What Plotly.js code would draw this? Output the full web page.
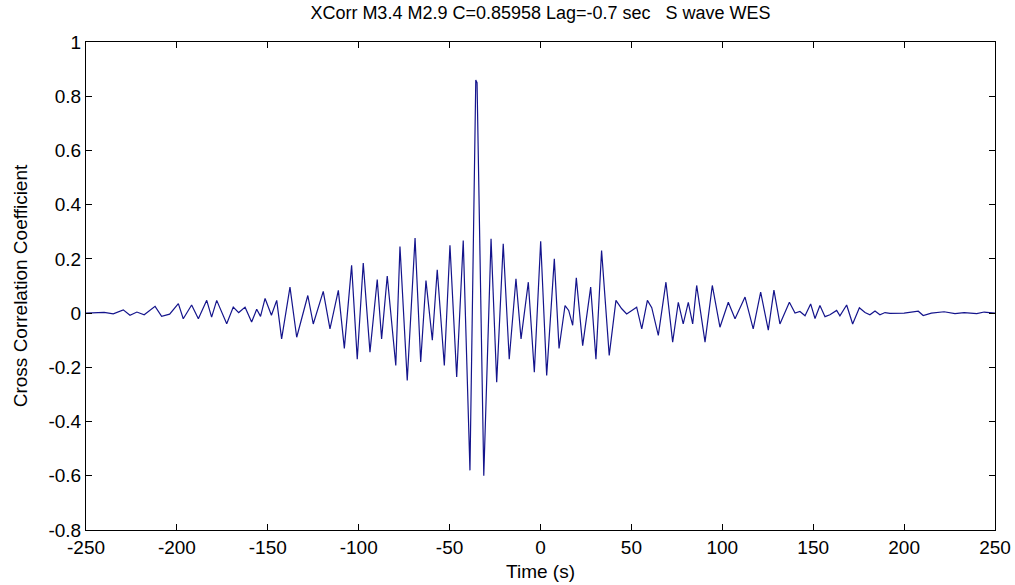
<!DOCTYPE html>
<html>
<head>
<meta charset="utf-8">
<script src="https://cdn.plot.ly/plotly-3.0.1.min.js"></script>
<style>
html,body{margin:0;padding:0;background:#fff;}
#chart{width:1015px;height:585px;}
</style>
</head>
<body>
<div id="chart"></div>
<script>
// Lag time in seconds
const timeS = [
  -250, -240, -235, -229.5, -225.8, -222, -218, -212, -208.4, -204,
  -199.2, -196.5, -191.9, -188.2, -183.6, -180.9, -178.1, -172.6, -169, -166,
  -162.5, -158.9, -156.1, -154, -151.5, -148, -145.1, -142.4, -137.8, -134.1,
  -128, -125, -119.5, -115.8, -111.2, -107.9, -103.9, -100.8, -97.5, -93.8,
  -89.8, -87.4, -84.3, -79.6, -77.3, -73.3, -69.0, -65.9, -63.0, -59.5,
  -56.8, -52.9, -49.8, -46.1, -42.5, -38.8, -35.6, -34.9, -31.2, -27.2,
  -24.1, -20.5, -17.2, -13.5, -10.7, -6.7, -3.4, 0.1, 3.4, 7.6,
  10.2, 13.5, 15.5, 17.7, 19.7, 23.2, 27.6, 30.5, 33.6, 37.8,
  41.5, 44.7, 47.4, 50.2, 52.9, 55.7, 58.8, 61.2, 64.8, 69.0,
  72.7, 75.8, 78.5, 81.3, 83.7, 85.9, 90.5, 94.5, 98.7, 103.3,
  107, 112.5, 117, 121.1, 125.3, 128.4, 131.7, 136.9, 140, 142.7,
  145.5, 148.6, 151, 153.7, 156.5, 159.2, 162.9, 164.7, 168.4, 171.7,
  175.4, 178.5, 181.2, 184, 186.7, 189.5, 192.2, 200, 207.8, 210.5,
  215, 222, 228, 233, 240, 244, 248, 250
];
// Cross correlation coefficient values
const corr = [
  0, 0.003, -0.003, 0.012, -0.008, 0.004, -0.006, 0.025, -0.012, -0.004,
  0.035, -0.021, 0.03, -0.021, 0.047, -0.015, 0.047, -0.039, 0.022, 0.002,
  0.022, -0.033, 0.014, -0.012, 0.054, -0.008, 0.047, -0.095, 0.096, -0.089,
  0.065, -0.04, 0.08, -0.058, 0.084, -0.13, 0.176, -0.17, 0.185, -0.144,
  0.124, -0.095, 0.137, -0.193, 0.246, -0.248, 0.277, -0.18, 0.12, -0.10,
  0.16, -0.193, 0.25, -0.236, 0.268, -0.58, 0.86, 0.85, -0.6, 0.274,
  -0.255, 0.256, -0.17, 0.127, -0.095, 0.114, -0.218, 0.265, -0.23, 0.2,
  -0.13, 0.028, 0.01, -0.045, 0.13, -0.12, 0.096, -0.17, 0.231, -0.156,
  0.047, 0.016, -0.003, 0.01, 0.022, -0.058, 0.047, 0.02, -0.082, 0.114,
  -0.107, 0.04, -0.04, 0.04, -0.04, 0.102, -0.107, 0.102, -0.052, 0.04,
  -0.021, 0.059, -0.058, 0.077, -0.063, 0.085, -0.04, 0.04, 0.0, 0.006,
  -0.01, 0.034, -0.02, 0.028, -0.013, -0.006, 0.01, -0.01, 0.03, -0.04,
  0.02, 0.002, -0.006, 0.008, -0.006, 0.002, -0.001, 0, 0.007, -0.009,
  0, 0.005, -0.002, 0.002, -0.002, 0.004, 0, 0
];

const xTickVals = [-250, -200, -150, -100, -50, 0, 50, 100, 150, 200, 250];
const xTickText = ['-250', '-200', '-150', '-100', '-50', '0', '50', '100', '150', '200', '250'];
const yTickVals = [-0.8, -0.6, -0.4, -0.2, 0, 0.2, 0.4, 0.6, 0.8, 1];
const yTickText = ['-0.8', '-0.6', '-0.4', '-0.2', '0', '0.2', '0.4', '0.6', '0.8', '1'];

const titleText = 'XCorr M3.4 M2.9 C=0.85958 Lag=-0.7 sec &nbsp; S wave WES';
const xTitle = 'Time (s)';
const yTitle = 'Cross Correlation Coefficient';

const FONT = '"Liberation Sans", Arial, Helvetica, sans-serif';

const trace = {
  x: timeS,
  y: corr,
  type: 'scatter',
  mode: 'lines',
  line: {color: '#14148c', width: 1.2},
  hoverinfo: 'skip'
};

const axisCommon = {
  showline: true,
  linecolor: '#000',
  linewidth: 1,
  mirror: 'ticks',
  ticks: 'inside',
  ticklen: 6,
  tickcolor: '#000',
  tickwidth: 1,
  showgrid: false,
  zeroline: false,
  tickfont: {family: FONT, size: 19, color: '#000'}
};

const layout = {
  width: 1015,
  height: 585,
  margin: {l: 86, r: 20, t: 42, b: 55},
  paper_bgcolor: '#fff',
  plot_bgcolor: '#fff',
  showlegend: false,
  font: {family: FONT, size: 19, color: '#000'},
  title: {
    text: titleText,
    font: {family: FONT, size: 18, color: '#000'},
    x: 0.5, xref: 'paper', xanchor: 'center',
    y: 1 - 13/585, yref: 'container', yanchor: 'middle'
  },
  xaxis: Object.assign({}, axisCommon, {
    range: [-250, 250],
    tickvals: xTickVals,
    ticktext: xTickText,
    title: {text: xTitle, font: {family: FONT, size: 19, color: '#000'}, standoff: 7}
  }),
  yaxis: Object.assign({}, axisCommon, {
    range: [-0.8, 1],
    tickvals: yTickVals,
    ticktext: yTickText,
    title: {text: yTitle, font: {family: FONT, size: 19, color: '#000'}, standoff: 15}
  })
};

Plotly.newPlot('chart', [trace], layout, {staticPlot: true, displayModeBar: false});
</script>
</body>
</html>
